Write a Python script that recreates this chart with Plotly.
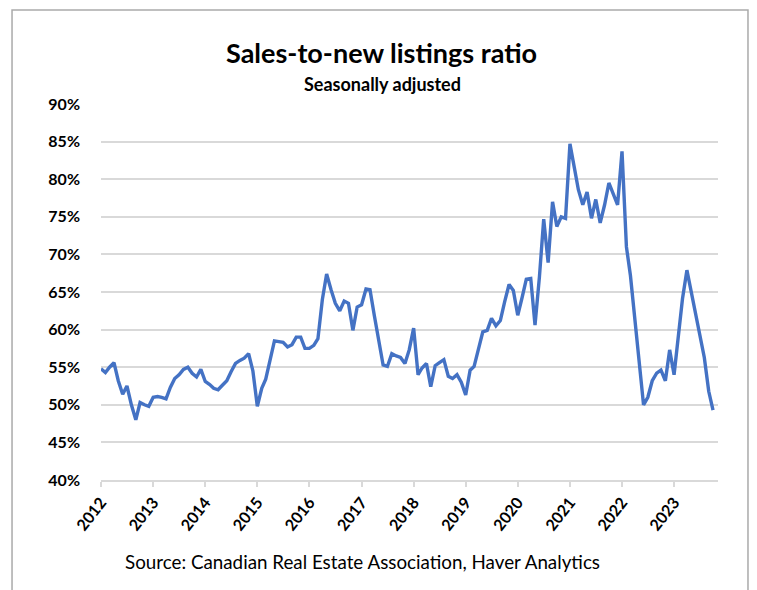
import pandas as pd
import plotly.graph_objects as go

# Monthly sales-to-new listings ratio (%), seasonally adjusted, Jan 2012 - Oct 2023
ratio_2012 = [54.8, 54.3, 55.0, 55.6, 53.2, 51.4, 52.5, 50.0, 48.0, 50.3, 50.0, 49.8]
ratio_2013 = [51.0, 51.1, 51.0, 50.8, 52.3, 53.5, 54.0, 54.7, 55.0, 54.2, 53.7, 54.7]
ratio_2014 = [53.1, 52.7, 52.2, 52.0, 52.6, 53.2, 54.4, 55.5, 55.9, 56.2, 56.8, 54.5]
ratio_2015 = [49.8, 52.2, 53.4, 56.0, 58.5, 58.4, 58.3, 57.7, 58.0, 59.0, 59.0, 57.5]
ratio_2016 = [57.5, 57.9, 58.8, 64.0, 67.4, 65.3, 63.5, 62.5, 63.8, 63.5, 59.9, 63.0]
ratio_2017 = [63.3, 65.4, 65.3, 61.8, 58.3, 55.3, 55.1, 56.8, 56.5, 56.3, 55.5, 57.3]
ratio_2018 = [60.2, 54.0, 54.9, 55.5, 52.4, 55.2, 55.6, 56.0, 53.8, 53.5, 54.0, 53.0]
ratio_2019 = [51.3, 54.6, 55.1, 57.3, 59.7, 59.9, 61.5, 60.5, 61.2, 63.7, 66.0, 65.2]
ratio_2020 = [61.9, 64.3, 66.7, 66.8, 60.6, 67.0, 74.7, 68.9, 77.0, 73.7, 75.0, 74.8]
ratio_2021 = [84.7, 81.5, 78.6, 76.6, 78.3, 74.8, 77.3, 74.2, 76.6, 79.5, 78.0, 76.6]
ratio_2022 = [83.7, 71.0, 67.2, 61.5, 55.4, 50.0, 51.0, 53.2, 54.2, 54.6, 53.2, 57.3]
ratio_2023 = [54.0, 59.4, 64.1, 67.9, 65.0, 62.5, 59.3, 56.3, 51.8, 49.3]

ratio = (ratio_2012 + ratio_2013 + ratio_2014 + ratio_2015 + ratio_2016 + ratio_2017
         + ratio_2018 + ratio_2019 + ratio_2020 + ratio_2021 + ratio_2022 + ratio_2023)
months = pd.date_range("2012-01-01", periods=len(ratio), freq="MS")

year_labels = [str(y) for y in range(2012, 2024)]
year_ticks = [f"{y}-01-01" for y in range(2012, 2024)]
pct_ticks = list(range(40, 95, 5))
pct_labels = [f"{v}%" for v in pct_ticks]

FONT = "Lato, 'Open Sans', sans-serif"
GRID = "#d9d9d9"

fig = go.Figure(
    go.Scatter(
        x=months,
        y=ratio,
        mode="lines",
        line=dict(color="#4472C4", width=3.4),
        hoverinfo="x+y",
    )
)

fig.update_layout(
    width=757,
    height=590,
    margin=dict(l=101, r=39, t=104, b=110),
    paper_bgcolor="white",
    plot_bgcolor="white",
    showlegend=False,
    font=dict(family=FONT, color="#000000"),
)

fig.update_xaxes(
    type="date",
    range=["2012-01-01", "2023-11-05"],
    tickvals=year_ticks,
    ticktext=year_labels,
    tickangle=-52,
    tickfont=dict(size=16, family=FONT, color="#000000", weight="bold"),
    showgrid=False,
    showline=True,
    linecolor=GRID,
    linewidth=1.5,
    ticks="outside",
    ticklen=5,
    tickwidth=1.5,
    tickcolor=GRID,
    zeroline=False,
)

fig.update_yaxes(
    range=[40, 90],
    tickvals=pct_ticks,
    ticktext=pct_labels,
    tickfont=dict(size=16, family=FONT, color="#000000", weight="bold"),
    showgrid=True,
    gridcolor=GRID,
    gridwidth=1.5,
    showline=False,
    zeroline=False,
    ticks="",
    ticklabelstandoff=20,
)

annotations = [
    dict(text="<b>Sales-to-new listings ratio</b>", x=0.455, y=1.138,
         font=dict(size=27, family=FONT, color="#000000")),
    dict(text="<b>Seasonally adjusted</b>", x=0.456, y=1.053,
         font=dict(size=18, family=FONT, color="#000000")),
    dict(text="Source: Canadian Real Estate Association, Haver Analytics", x=0.424, y=-0.218,
         font=dict(size=18.8, family=FONT, color="#000000")),
]
for a in annotations:
    a.update(xref="paper", yref="paper", showarrow=False, xanchor="center", yanchor="middle")
fig.update_layout(annotations=annotations)

# Outer frame around the chart
fig.add_shape(
    type="rect", xref="paper", yref="paper",
    x0=-0.1442, x1=1.0486, y0=-0.32, y1=1.25,
    line=dict(color="#aaaaaa", width=1.5), fillcolor="rgba(0,0,0,0)",
    layer="below",
)

fig.write_html("out.html")
